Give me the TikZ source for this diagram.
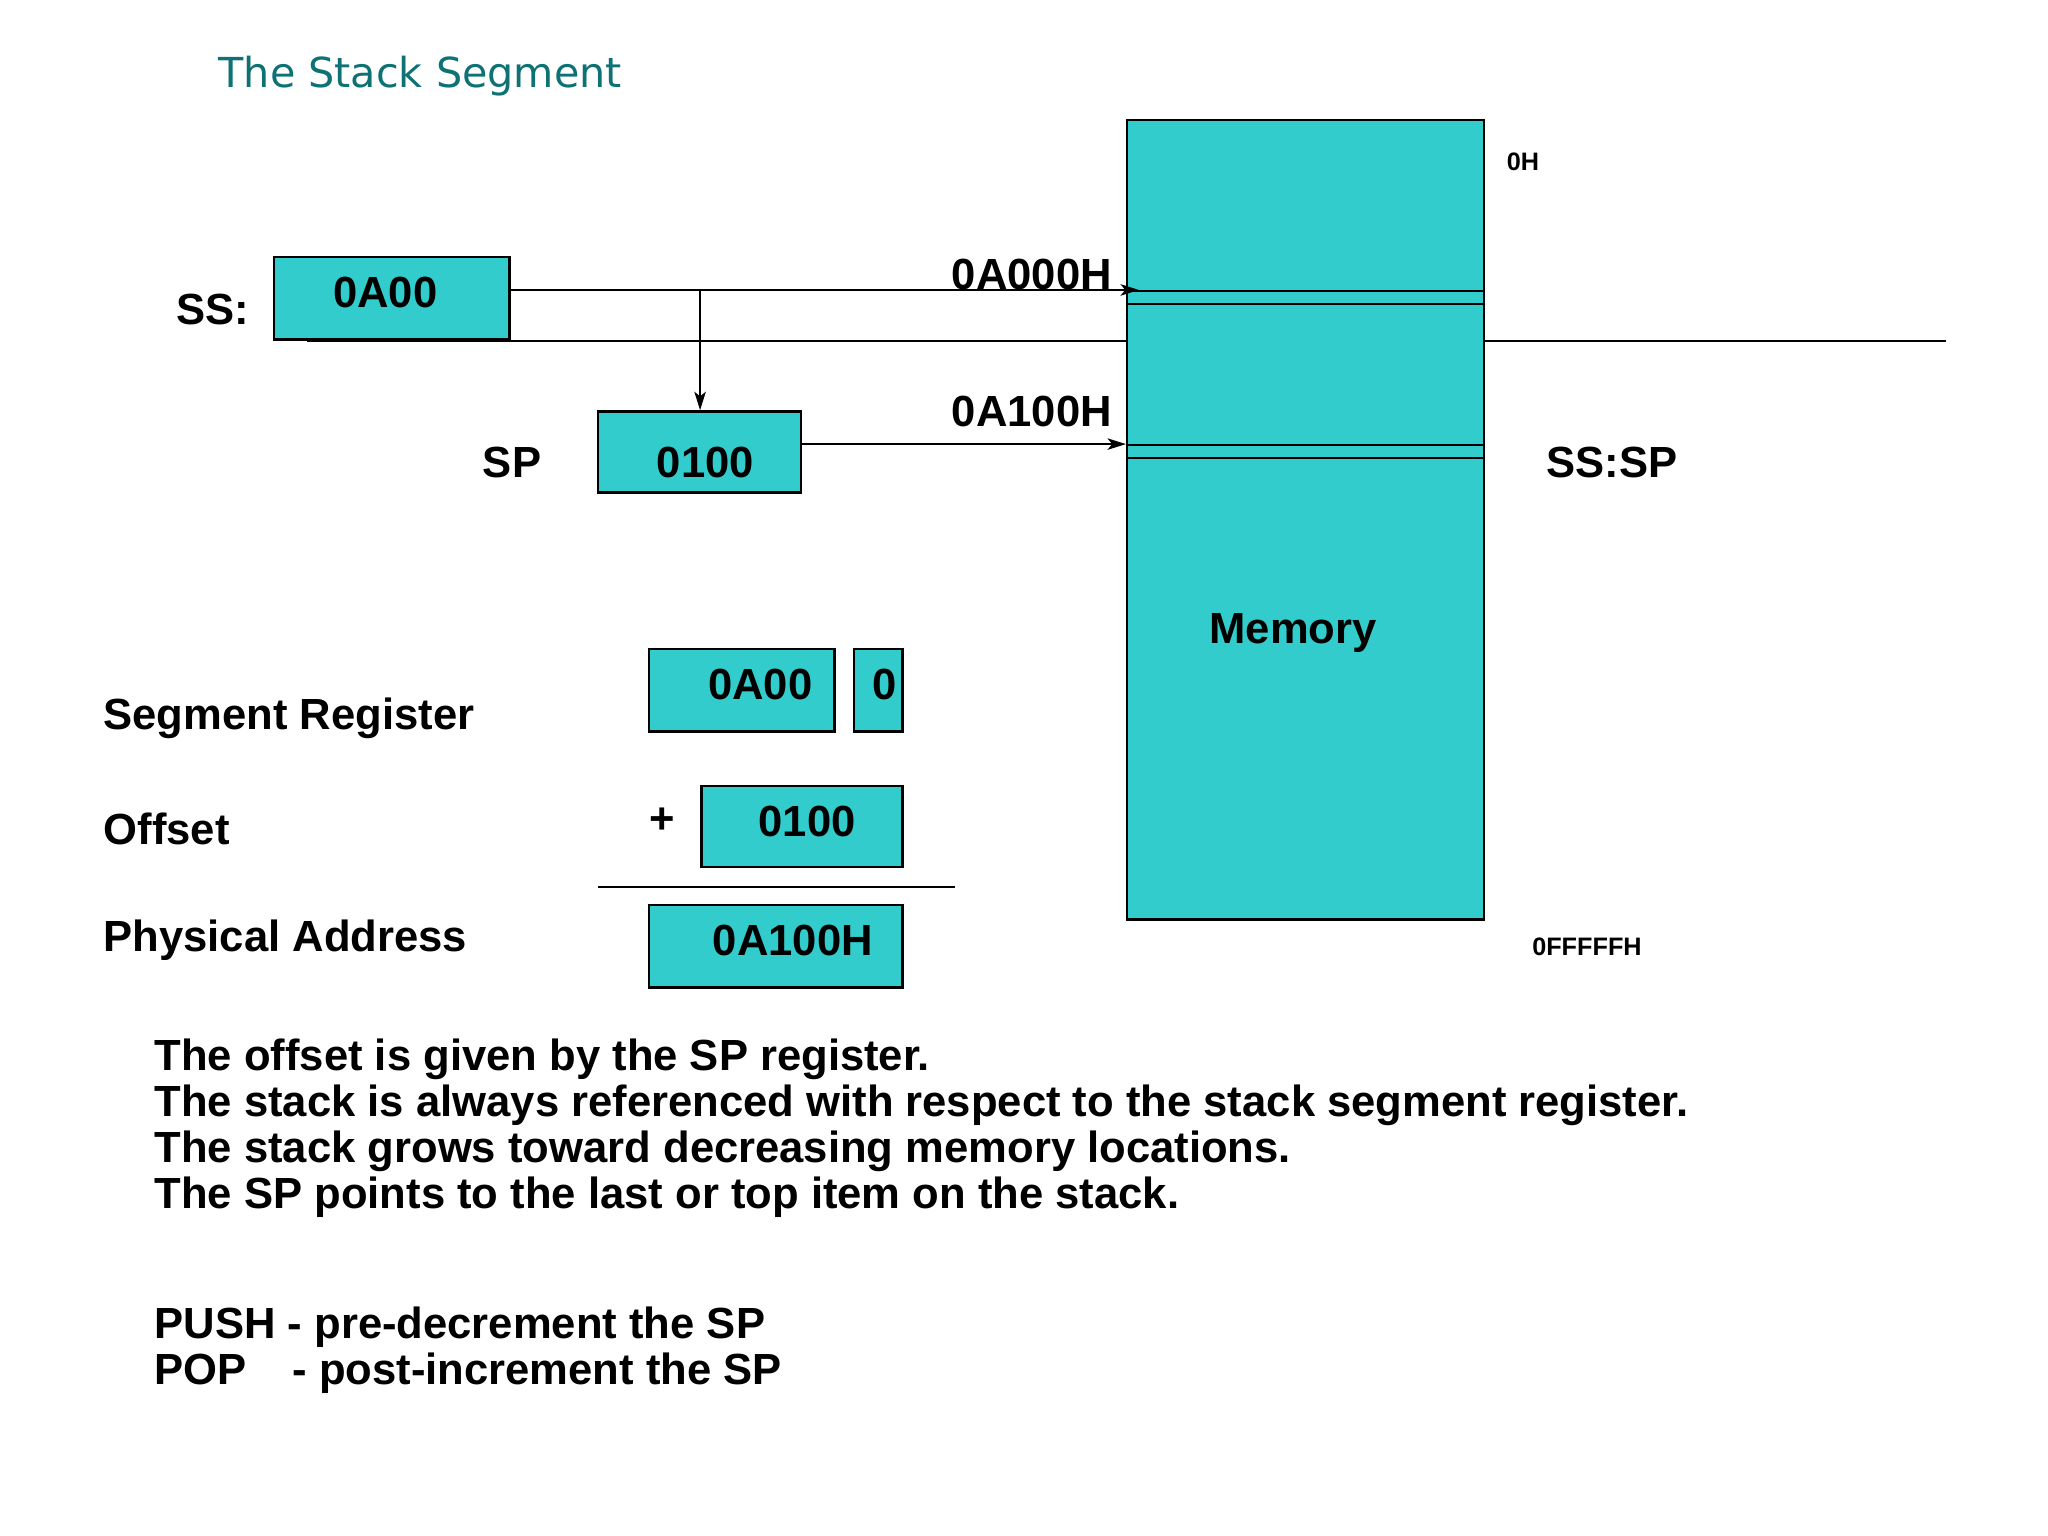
\documentclass[tikz,border=0pt]{standalone}
\usepackage{fontspec}
\setmainfont{Liberation Sans}
\newfontfamily\titlefont{DejaVu Sans}
\usetikzlibrary{arrows.meta}
\definecolor{cyanfill}{HTML}{33CCCC}
\definecolor{titlecol}{HTML}{0E7173}
\begin{document}
\begin{tikzpicture}[x=0.02cm,y=-0.02cm,
  box/.style={draw=black,line width=1pt,fill=cyanfill},
  big/.style={font=\fontsize{19}{22}\selectfont\bfseries,inner sep=0pt},
  small/.style={font=\fontsize{11}{13}\selectfont\bfseries,inner sep=0pt},
  ln/.style={line width=0.9pt},
  arr/.style={ln,-{Stealth[length=8pt,width=5pt,inset=2pt]}}]
\useasboundingbox (0,0) rectangle (1568,1176);
\node[anchor=west,text=titlecol,font=\titlefont\fontsize{18}{20}\selectfont,inner sep=0pt] (title) at (167,58) {The Stack Segment};
% memory
\draw[box] (863,92) rectangle (1136,704);
\coordinate (memtl) at (863,222);
\draw[ln] (863,223) -- (1136,223) (863,233) -- (1136,233);
\draw[ln] (863,341) -- (1136,341) (863,351) -- (1136,351);
\node[big] (mem) at (990,485) {Memory};
\node[small] (zh) at (1166,124) {0H};
\node[small] (ff) at (1215,725) {0FFFFFH};
\node[big] (sssp) at (1234,354) {SS:SP};
% baseline
\draw[ln] (235,261) -- (863,261);
\draw[ln] (1136,261) -- (1490,261);
% SS
\node[big] (sslab) at (163,237) {SS:};
\draw[box] (210,197) rectangle (390,260);
\node[big] (ssval) at (295,224) {0A00};
\coordinate (ssr) at (390,222);
\coordinate (a1) at (872,222);
\coordinate (br) at (536,222);
\coordinate (spt) at (536,314);
\draw[ln] (ssr) -- (br);
\draw[arr] (br) -- (a1);
\draw[arr] (br) -- (spt);
\node[big] (l1) at (790,210) {0A000H};
% SP
\node[big] (splab) at (392,354) {SP};
\draw[box] (458,315) rectangle (613,377);
\node[big] (spval) at (540,354) {0100};
\coordinate (spr) at (613,340);
\coordinate (a2) at (862,340);
\draw[arr] (spr) -- (a2);
\node[big] (l2) at (790,315) {0A100H};
% computation
\node[big,anchor=west] (segl) at (79,550) {Segment Register};
\node[big,anchor=west] (offl) at (79,635) {Offset};
\node[big,anchor=west] (phl) at (79,720) {Physical Address};
\draw[box] (497,497) rectangle (639,560);
\node[big] (b1) at (582,524) {0A00};
\draw[box] (654,497) rectangle (691,560);
\node[big] (b2) at (677,524) {0};
\node[big] (plus) at (507,628) {+};
\draw[box] (537,602) rectangle (691,664);
\node[big] (b3) at (618,629) {0100};
\draw[ln] (458,679) -- (731,679);
\draw[box] (497,693) rectangle (691,756);
\node[big] (b4) at (607,720) {0A100H};
% text
\node[big,anchor=north west,align=left,font=\fontsize{19}{20}\selectfont\bfseries] (txt) at (118,795) {The offset is given by the SP register.\\The stack is always referenced with respect to the stack segment register.\\The stack grows toward decreasing memory locations.\\The SP points to the last or top item on the stack.};
\node[big,anchor=north west,align=left,font=\fontsize{19}{20}\selectfont\bfseries] (txt2) at (118,1000) {PUSH - pre-decrement the SP\\POP\hspace{1.05em}- post-increment the SP};
\end{tikzpicture}
\end{document}
